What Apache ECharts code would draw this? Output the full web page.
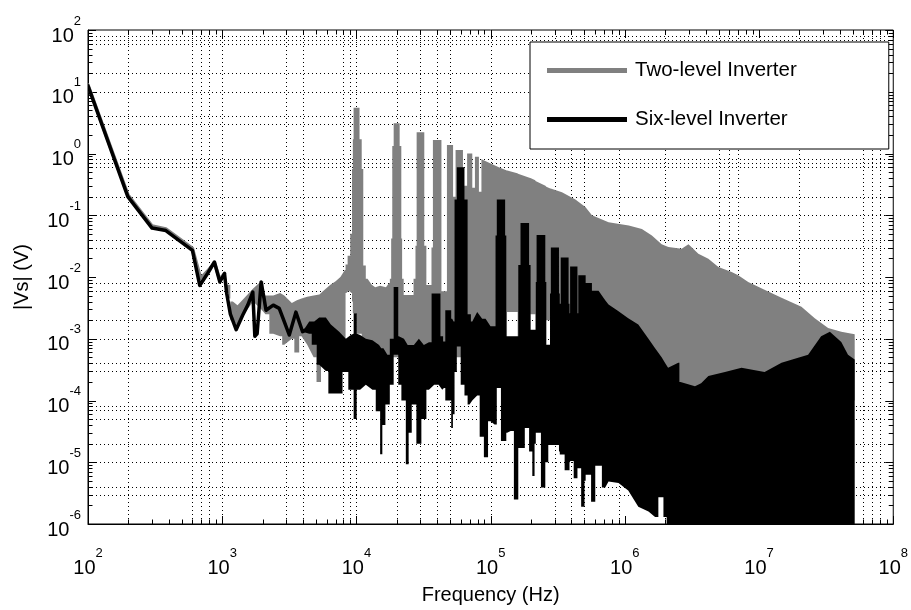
<!DOCTYPE html>
<html>
<head>
<meta charset="utf-8">
<script src="https://cdn.jsdelivr.net/npm/echarts@6/dist/echarts.min.js"></script>
<style>
html,body{margin:0;padding:0;background:#fff;}
#chart{width:911px;height:610px;}
</style>
</head>
<body>
<div id="chart"></div>
<script>
// ---- tick labels (exponents of 10) ----
const xTickExponents = [2, 3, 4, 5, 6, 7, 8];
const yTickExponents = [-6, -5, -4, -3, -2, -1, 0, 1, 2];

// ---- dotted grid lines as they appear in the figure ----
const gridFreqs = [200, 600, 700, 800, 1000, 3000, 4000, 8000, 9000, 1e4, 2e4, 3e4, 4e4, 5e4,
  1e5, 3e5, 4e5, 5e5, 9e5, 2e6, 5e6, 6e6, 7e6, 2e7, 6e7, 7e7, 8e7];
const gridLevels = [80, 70, 60, 20, 10, 4, 3, 0.8, 0.7, 0.6, 0.2, 0.1, 0.04, 0.03, 0.008, 0.006,
  0.002, 0.001, 4e-4, 3e-4, 8e-5, 7e-5, 5e-5, 2e-5, 1e-5, 4e-6, 3e-6];

// ---- series names ----
const seriesNames = ['Two-level Inverter', 'Six-level Inverter'];

// ---- Two-level inverter spectrum: [frequency Hz, upper |Vs|, lower |Vs|] ----
const twoLevelSpectrum = [
  [100, 12.8, 12.8], [198, 0.215, 0.215], [300, 0.067, 0.067], [380, 0.06, 0.06],
  [600, 0.029, 0.029], [690, 0.0095, 0.0095], [780, 0.0125, 0.0125], [875, 0.017, 0.017],
  [960, 0.009, 0.009], [1040, 0.0115, 0.0115], [1100, 0.0075, 0.0045], [1200, 0.004, 0.002],
  [1300, 0.0035, 0.0016], [1450, 0.0045, 0.0025], [1700, 0.0065, 0.004], [1950, 0.0085, 0.003],
  [2100, 0.005, 0.0025], [2400, 0.005, 0.0012], [2700, 0.0055, 0.0011], [2900, 0.005, 0.0008],
  [3300, 0.0038, 0.001], [3600, 0.0042, 0.0006], [3900, 0.0045, 0.0011], [4300, 0.0048, 0.0008],
  [4800, 0.005, 0.0005], [5300, 0.0052, 0.0002], [5600, 0.0058, 0.0006], [6400, 0.0075, 0.0005],
  [7000, 0.0085, 0.0005], [7600, 0.01, 0.0005], [8200, 0.013, 0.0008], [8400, 0.016, 0.0055],
  [8800, 0.022, 0.006], [9200, 0.05, 0.0055], [9350, 0.56, 0.004], [9450, 1.7, 0.0026],
  [9600, 5.5, 0.0026], [10300, 5.5, 0.0012], [10800, 1.7, 0.0012], [11100, 0.56, 0.0005],
  [11400, 0.0154, 0.0005], [12100, 0.0094, 0.0005], [13000, 0.0075, 0.0005], [13800, 0.0068, 0.0005],
  [15000, 0.0072, 0.0005], [16600, 0.0068, 0.0005], [17500, 0.008, 0.0005], [18000, 0.0094, 0.0005],
  [18300, 0.042, 0.0005], [18700, 1.32, 0.0005], [19200, 3.1, 0.0005], [20600, 3.1, 0.0005],
  [21400, 1.32, 0.0005], [21800, 0.042, 0.0005], [22000, 0.0094, 0.0005], [23000, 0.0051, 0.0005],
  [26000, 0.0051, 0.0005], [27300, 0.0094, 0.0005], [27800, 0.032, 0.0005], [28400, 2.2, 0.0005],
  [31300, 2.2, 0.0005], [32800, 0.032, 0.0005], [33600, 0.0074, 0.0005], [36000, 0.0074, 0.0005],
  [36500, 0.03, 0.0005], [37800, 1.65, 0.0005], [42400, 1.65, 0.0005], [43600, 0.0059, 0.0005],
  [47000, 0.0059, 0.0005], [47500, 1.37, 0.0005], [52400, 1.37, 0.0005], [52600, 0.2, 0.0005],
  [54600, 0.2, 0.0005], [55000, 1.14, 0.0005], [62100, 1.14, 0.0005], [62300, 0.3, 0.0005],
  [66700, 0.3, 0.0005], [66900, 1.0, 0.0005], [72900, 1.0, 0.0005], [73100, 0.28, 0.0005],
  [76300, 0.28, 0.0005], [76500, 0.89, 0.0005], [81700, 0.89, 0.0005], [81900, 0.24, 0.0005],
  [85300, 0.24, 0.0005], [85500, 0.81, 0.0005], [115000, 0.6, 0.0005], [132000, 0.53, 0.0005],
  [133000, 0.53, 0.0027], [158000, 0.48, 0.0027], [160000, 0.47, 0.0008], [197000, 0.4, 0.0008],
  [198000, 0.4, 0.0025], [215000, 0.37, 0.0025], [216000, 0.36, 0.0008], [256000, 0.3, 0.0008],
  [260000, 0.29, 0.002], [278000, 0.27, 0.002], [280000, 0.27, 0.0001], [340000, 0.236, 0.0001],
  [428000, 0.18, 0.0001], [508000, 0.136, 0.0001], [569000, 0.1, 0.0001], [756000, 0.077, 0.0001],
  [1070000, 0.068, 0.0001], [1340000, 0.06, 0.0001], [1590000, 0.047, 0.0001], [1880000, 0.034, 0.0001],
  [2110000, 0.0307, 0.0001], [2650000, 0.0288, 0.0001], [2980000, 0.034, 0.0001], [3530000, 0.0237, 0.0001],
  [4190000, 0.0197, 0.0001], [4980000, 0.0145, 0.0001], [6250000, 0.0121, 0.0001], [7000000, 0.0107, 0.0001],
  [8300000, 0.0083, 0.0001], [11700000, 0.0058, 0.0001], [14700000, 0.0046, 0.0001], [20700000, 0.0033, 0.0001],
  [26000000, 0.00215, 0.0001], [32700000, 0.0015, 0.0001], [41000000, 0.0013, 0.0001], [51600000, 0.00118, 0.0001]
];

// ---- Six-level inverter spectrum: [frequency Hz, upper |Vs|, lower |Vs|] ----
const sixLevelSpectrum = [
  [100, 12.5, 12.5], [198, 0.2, 0.2], [300, 0.062, 0.062], [380, 0.0565, 0.0565],
  [600, 0.027, 0.027], [680, 0.0073, 0.0073], [780, 0.0115, 0.0115], [875, 0.0175, 0.0175],
  [960, 0.0083, 0.0083], [1040, 0.0114, 0.0114], [1080, 0.0054, 0.0054], [1150, 0.0025, 0.0025],
  [1270, 0.0014, 0.0014], [1420, 0.0024, 0.0024], [1550, 0.0035, 0.0035], [1690, 0.0057, 0.0057],
  [1750, 0.0011, 0.0011], [1820, 0.0012, 0.0012], [1950, 0.0083, 0.0083], [2050, 0.0045, 0.0045],
  [2120, 0.0029, 0.0029], [2400, 0.0035, 0.0035], [2660, 0.0031, 0.0031], [2900, 0.0019, 0.0019],
  [3160, 0.00115, 0.00115], [3540, 0.0027, 0.0027], [3970, 0.0013, 0.0013], [4450, 0.0019, 0.0012],
  [4850, 0.0019, 0.0008], [5280, 0.0022, 0.00038], [5920, 0.0022, 0.0003], [6450, 0.0017, 0.00013],
  [7440, 0.0013, 0.00013], [8340, 0.001, 0.00029], [9080, 0.00115, 0.00015], [9500, 0.0012, 0.00015],
  [9570, 0.0026, 0.00005], [10000, 0.0026, 0.00005], [10100, 0.0012, 0.00015], [10660, 0.00115, 0.00015],
  [11750, 0.001, 0.00018], [13160, 0.00095, 0.00015], [14750, 0.00079, 0.000067], [15300, 0.0007, 0.0000135],
  [15900, 0.0007, 0.00004], [17000, 0.00055, 0.000086], [18500, 0.001, 0.00018], [19400, 0.0069, 0.00055],
  [20300, 0.0069, 0.00055], [20700, 0.0011, 0.00018], [22600, 0.001, 0.0001], [24100, 0.00079, 0.0000093],
  [24900, 0.00079, 0.00003], [26800, 0.00079, 0.000086], [29200, 0.001, 0.00002], [31800, 0.00079, 0.00005],
  [34700, 0.00088, 0.00015], [38000, 0.0054, 0.00018], [41000, 0.0054, 0.00018], [43600, 0.0011, 0.00015],
  [44900, 0.0009, 0.00016], [47000, 0.0029, 0.0001], [50000, 0.0029, 0.0001], [51700, 0.0021, 0.000036],
  [53000, 0.0019, 0.00006], [54700, 0.18, 0.00029], [57300, 0.6, 0.00075], [62500, 0.6, 0.00018],
  [65200, 0.18, 0.00012], [69600, 0.0025, 0.000086], [73000, 0.0019, 0.0001], [79400, 0.0027, 0.00012],
  [86500, 0.0021, 0.000026], [91700, 0.0021, 0.000012], [99800, 0.0016, 0.000046], [107000, 0.0016, 0.000041],
  [110600, 0.047, 0.000041], [111700, 0.18, 0.00016], [127500, 0.18, 0.000022], [129000, 0.047, 0.000022],
  [132700, 0.0011, 0.00003], [141000, 0.0011, 0.000032], [157500, 0.0011, 0.0000025], [164000, 0.0156, 0.000017],
  [170000, 0.075, 0.000017], [190000, 0.075, 0.000036], [197000, 0.0156, 0.000015], [200000, 0.0014, 0.000015],
  [209000, 0.0014, 0.000006], [216000, 0.0014, 0.00002], [218000, 0.0083, 0.00003], [222000, 0.048, 0.00003],
  [253000, 0.048, 0.0000039], [258000, 0.0083, 0.00001], [262000, 0.0008, 0.00001], [276000, 0.0008, 0.000019],
  [278000, 0.0054, 0.000019], [284000, 0.03, 0.000019], [321000, 0.03, 0.000019], [325000, 0.0054, 0.000015],
  [330000, 0.0037, 0.0000134], [336000, 0.0207, 0.0000134], [377000, 0.0207, 0.0000074], [385000, 0.0037, 0.0000074],
  [389000, 0.0026, 0.00001], [393000, 0.0148, 0.0000105], [440000, 0.0148, 0.0000055], [447000, 0.0026, 0.000008],
  [453000, 0.0107, 0.000008], [493000, 0.0107, 0.0000019], [508000, 0.0107, 0.000005], [513000, 0.008, 0.0000063],
  [553000, 0.008, 0.0000063], [568000, 0.008, 0.0000023], [569000, 0.006, 0.0000023], [637000, 0.006, 0.0000088],
  [714000, 0.0042, 0.0000039], [756000, 0.0036, 0.0000049], [897000, 0.0028, 0.0000046], [1060000, 0.00215, 0.0000035],
  [1260000, 0.0017, 0.0000019], [1500000, 0.001, 0.0000016], [1680000, 0.0007, 0.0000013], [1880000, 0.0005, 0.0000027],
  [2000000, 0.0004, 0.0000013], [2100000, 0.00034, 0.000001], [2500000, 0.00041, 0.000001], [2600000, 0.0002, 0.000001],
  [3330000, 0.00017, 0.000001], [3700000, 0.00019, 0.000001], [4190000, 0.00025, 0.000001], [5570000, 0.00029, 0.000001],
  [7400000, 0.00034, 0.000001], [11000000, 0.00029, 0.000001], [14700000, 0.00041, 0.000001], [23200000, 0.00055, 0.000001],
  [29000000, 0.0011, 0.000001], [33700000, 0.0013, 0.000001], [41000000, 0.00089, 0.000001], [46000000, 0.00055, 0.000001],
  [51600000, 0.00046, 0.000001]
];

const FONT = '"Liberation Sans", Arial, Helvetica, sans-serif';
const GRAY = '#808080';
const BLACK = '#000000';

function expLabel(list) {
  return function (v) {
    const e = Math.round(Math.log10(v));
    return list.indexOf(e) >= 0 ? '{b|10}{s|' + e + '}' : '';
  };
}
const labelRich = {
  b: { fontSize: 20, lineHeight: 20, padding: [14, 0, 0, 0], fontFamily: FONT, color: '#000' },
  s: { fontSize: 13, lineHeight: 13, padding: [0, 0, 16, 0], fontFamily: FONT, color: '#000' }
};

// steep jumps between neighbouring samples are drawn as vertical steps (like a dense spectrum)
function stepPath(pts) {
  const out = [pts[0]];
  for (let i = 1; i < pts.length; i++) {
    const a = pts[i - 1], b = pts[i];
    const dx = Math.abs(b[0] - a[0]), dy = Math.abs(b[1] - a[1]);
    if (dy > 3 && dy > 2 * dx) {
      const xm = (a[0] + b[0]) / 2;
      out.push([xm, a[1]], [xm, b[1]]);
    }
    out.push(b);
  }
  return out;
}

function envelopeRender(spectrum, color, lineEndFreq, lineWidth) {
  return function (params, api) {
    if (params.dataIndex !== 0) return null;
    const upper = stepPath(spectrum.map(p => api.coord([p[0], p[1]])));
    const lower = stepPath(spectrum.slice().reverse().map(p => api.coord([p[0], p[2]])));
    const linePts = spectrum.filter(p => p[0] <= lineEndFreq)
      .map(p => api.coord([p[0], Math.sqrt(p[1] * p[2])]));
    return {
      type: 'group',
      children: [
        { type: 'polygon', shape: { points: upper.concat(lower) }, style: { fill: color } },
        { type: 'polyline', shape: { points: linePts },
          style: { stroke: color, lineWidth: lineWidth, fill: null, lineJoin: 'round', lineCap: 'round' } }
      ]
    };
  };
}

function decorRender(params, api) {
  if (params.dataIndex !== 0) return null;
  const cs = params.coordSys;
  const L = cs.x, T = cs.y, R = cs.x + cs.width, B = cs.y + cs.height;
  const children = [];
  const dot = { stroke: '#000', lineWidth: 1, lineDash: [1, 3] };
  gridFreqs.forEach(f => {
    const x = Math.round(api.coord([f, 1])[0]) + 0.5;
    children.push({ type: 'line', shape: { x1: x, y1: T, x2: x, y2: B }, style: dot });
  });
  gridLevels.forEach(v => {
    const y = Math.round(api.coord([1000, v])[1]) + 0.5;
    children.push({ type: 'line', shape: { x1: L, y1: y, x2: R, y2: y }, style: dot });
  });
  const tk = { stroke: '#000', lineWidth: 1 };
  xTickExponents.forEach(e => {
    for (let m = 1; m <= 9; m++) {
      const v = m * Math.pow(10, e);
      if (v > 1e8 * 1.0001) continue;
      const x = Math.round(api.coord([v, 1])[0]) + 0.5;
      const len = m === 1 ? 8 : 4.5;
      children.push({ type: 'line', shape: { x1: x, y1: B, x2: x, y2: B - len }, style: tk });
      children.push({ type: 'line', shape: { x1: x, y1: T, x2: x, y2: T + len }, style: tk });
    }
  });
  yTickExponents.forEach(e => {
    for (let m = 1; m <= 9; m++) {
      const v = m * Math.pow(10, e);
      if (v > 100 * 1.0001) continue;
      const y = Math.round(api.coord([1000, v])[1]) + 0.5;
      const len = m === 1 ? 8 : 4.5;
      children.push({ type: 'line', shape: { x1: L, y1: y, x2: L + len, y2: y }, style: tk });
      children.push({ type: 'line', shape: { x1: R, y1: y, x2: R - len, y2: y }, style: tk });
    }
  });
  return { type: 'group', children: children };
}

const chart = echarts.init(document.getElementById('chart'), null, { renderer: 'canvas' });
chart.setOption({
  animation: false,
  backgroundColor: '#fff',
  grid: { left: 88, top: 30, width: 807, height: 497, show: true, borderColor: '#000', borderWidth: 1, backgroundColor: 'transparent' },
  xAxis: {
    type: 'log', logBase: 10, min: 100, max: 1e8, splitNumber: 6,
    axisLine: { show: true, lineStyle: { color: '#000', width: 1 } },
    axisTick: { show: false }, splitLine: { show: false },
    axisLabel: { margin: 27, formatter: expLabel(xTickExponents), rich: labelRich, showMinLabel: true, showMaxLabel: true, hideOverlap: false },
    name: 'Frequency (Hz)', nameLocation: 'middle', nameGap: 61,
    nameTextStyle: { fontSize: 20, color: '#000', fontFamily: FONT }
  },
  yAxis: {
    type: 'log', logBase: 10, min: 1e-6, max: 100, splitNumber: 8,
    axisLine: { show: true, lineStyle: { color: '#000', width: 1 } },
    axisTick: { show: false }, splitLine: { show: false },
    axisLabel: { margin: 7, formatter: expLabel(yTickExponents), rich: labelRich, padding: [0, 0, 2, 0], showMinLabel: true, showMaxLabel: true, hideOverlap: false },
    name: '|Vs| (V)', nameLocation: 'middle', nameGap: 56,
    nameTextStyle: { fontSize: 20, color: '#000', fontFamily: FONT }
  },
  legend: {
    data: [{ name: seriesNames[0], icon: 'rect' }, { name: seriesNames[1], icon: 'rect' }],
    orient: 'vertical', left: 530, top: 42,
    padding: [18, 92, 19, 17], itemGap: 28, itemWidth: 80, itemHeight: 5,
    backgroundColor: '#fff', borderColor: '#000', borderWidth: 1, borderRadius: 0,
    textStyle: { fontSize: 20.5, color: '#000', fontFamily: FONT, padding: [0, 0, 0, 3] },
    selectedMode: false
  },
  series: [
    {
      type: 'custom', name: 'grid', coordinateSystem: 'cartesian2d', z: 1, silent: true,
      data: [[1000, 1]], encode: { x: 0, y: 1 }, renderItem: decorRender, clip: false
    },
    {
      type: 'custom', name: seriesNames[0], coordinateSystem: 'cartesian2d', z: 2,
      itemStyle: { color: GRAY },
      data: [[twoLevelSpectrum[0][0], twoLevelSpectrum[0][1]]], encode: { x: 0, y: 1 },
      renderItem: envelopeRender(twoLevelSpectrum, GRAY, 1040, 3.5), clip: true
    },
    {
      type: 'custom', name: seriesNames[1], coordinateSystem: 'cartesian2d', z: 3,
      itemStyle: { color: BLACK },
      data: [[sixLevelSpectrum[0][0], sixLevelSpectrum[0][1]]], encode: { x: 0, y: 1 },
      renderItem: envelopeRender(sixLevelSpectrum, BLACK, 4450, 3.5), clip: true
    }
  ]
});
</script>
</body>
</html>
